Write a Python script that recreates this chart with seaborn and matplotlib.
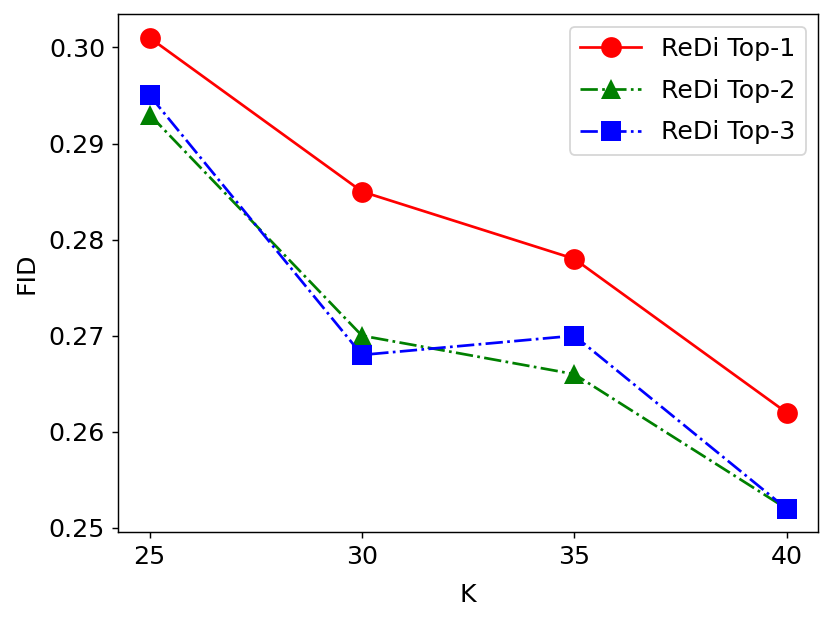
import pandas as pd
import matplotlib
matplotlib.use("Agg")
import matplotlib.pyplot as plt
import seaborn as sns

# values
k_values = [25, 30, 35, 40]
top1 = [0.301, 0.285, 0.278, 0.262]
top2 = [0.293, 0.270, 0.266, 0.252]
top3 = [0.295, 0.268, 0.270, 0.252]
labels = ["ReDi Top-1", "ReDi Top-2", "ReDi Top-3"]

df = pd.DataFrame({
    "K": k_values * 3,
    "FID": top1 + top2 + top3,
    "method": [labels[0]] * 4 + [labels[1]] * 4 + [labels[2]] * 4,
})

plt.rcParams["font.size"] = 14

fig, ax = plt.subplots(figsize=(830 / 130, 621 / 130), dpi=130)
fig.subplots_adjust(left=0.142, right=0.986, top=0.977, bottom=0.143)

styles = {
    labels[0]: dict(color="red", marker="o", linestyle="-"),
    labels[1]: dict(color="green", marker="^", linestyle="-."),
    labels[2]: dict(color="blue", marker="s", linestyle="-."),
}
for name in labels:
    st = styles[name]
    sns.lineplot(data=df[df["method"] == name], x="K", y="FID", ax=ax,
                 color=st["color"], marker=st["marker"], linestyle=st["linestyle"],
                 markersize=11.5, markeredgewidth=0, linewidth=1.5, label=name)

ax.set_xticks(k_values)
ax.set_yticks([0.25, 0.26, 0.27, 0.28, 0.29, 0.30])
ax.tick_params(labelsize=14)
ax.set_xlabel("K", fontsize=14, labelpad=8)
ax.set_ylabel("FID", fontsize=14, labelpad=6)
ax.legend(loc="upper right", fontsize=14, labelspacing=0.7, handlelength=2.4)

plt.savefig("out.png", dpi=130)
